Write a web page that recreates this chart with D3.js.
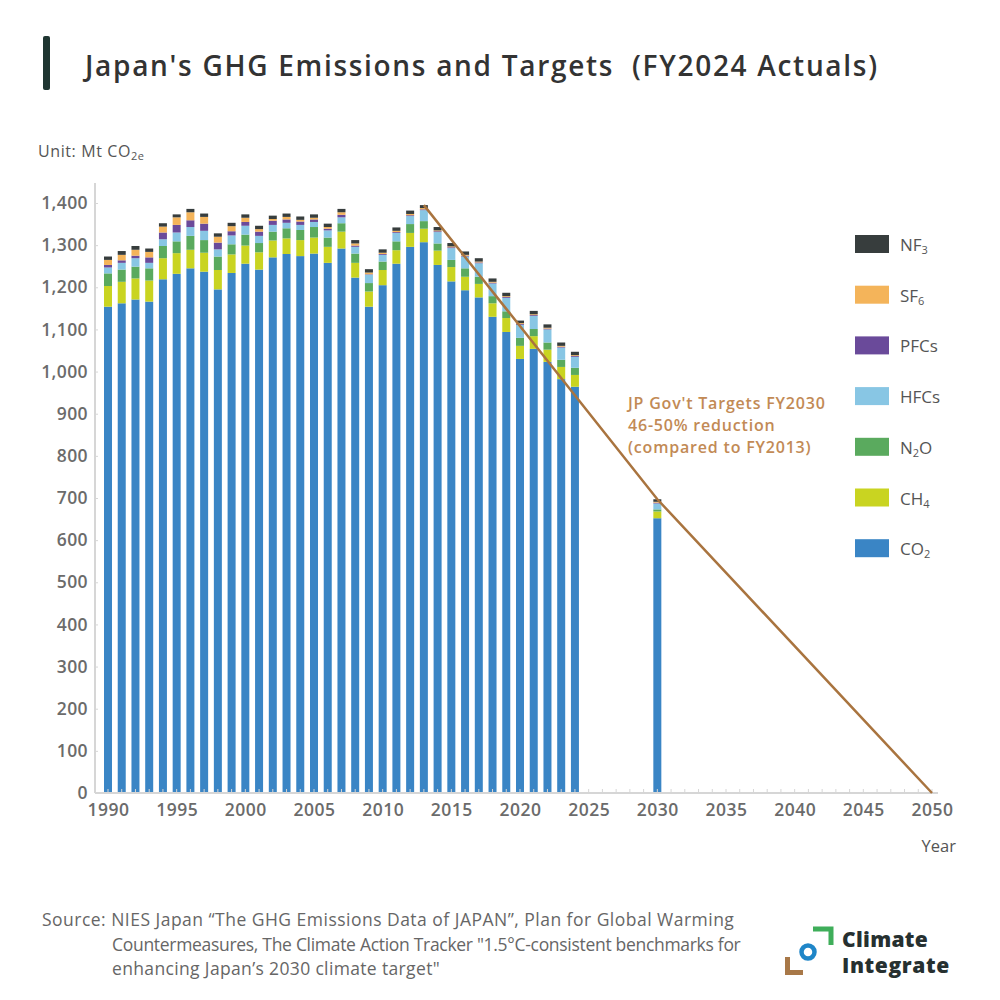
<!DOCTYPE html>
<html>
<head>
<meta charset="utf-8">
<script src="https://cdn.jsdelivr.net/npm/d3@7"></script>
<style>
  body { margin: 0; background: #fff; }
  text { font-family: "Open Sans", Lato, sans-serif; }
</style>
</head>
<body>
<script>
// values (Mt CO2e)
let years = [1990,1991,1992,1993,1994,1995,1996,1997,1998,1999,2000,2001,2002,2003,2004,2005,2006,2007,2008,2009,2010,2011,2012,2013,2014,2015,2016,2017,2018,2019,2020,2021,2022,2023,2024,2030];
let co2  = [1154,1162,1171,1166,1219,1232,1245,1237,1195,1234,1256,1242,1271,1279,1274,1280,1258,1292,1223,1154,1205,1256,1296,1307,1253,1214,1193,1176,1130,1094,1030,1054,1023,982,964,652];
let ch4  = [49,51,50,50,50,49,44,45,46,44,43,41,40,37,38,38,38,40,35,36,36,32,33,32,34,34,32,32,32,33,31,30,29,29,28,16];
let n2o  = [30,29,28,29,29,28,33,30,32,24,26,22,21,24,24,25,22,20,22,20,20,21,21,18,17,17,20,17,17,16,19,17,17,17,17,5];
let hfcs = [14,16,20,13,16,21,21,22,17,21,21,17,16,13,12,12,17,14,16,20,16,20,19,26,27,28,28,32,30,32,31,31,31,29,26,14];
let pfcs = [6,6,6,13,16,18,16,17,16,10,9,10,10,8,8,6,4,6,3,1,2,2,2,2,2,2,2,2,2,2,2,2,2,2,2,2];
let sf6  = [12,13,14,13,14,18,19,16,14,12,10,6,4,6,4,4,4,6,5,4,3,3,3,3,2,2,2,2,2,2,2,2,2,2,2,2];
let nf3  = [8,9,9,8,8,7,8,8,8,8,8,8,8,8,8,8,8,8,8,8,8,8,8,7,8,8,8,8,8,8,6,8,8,8,8,6];

let gases = ["CO2","CH4","N2O","HFCs","PFCs","SF6","NF3"];
let gasLabels = [["CO","2"],["CH","4"],["N","2","O"],["HFCs"],["PFCs"],["SF","6"],["NF","3"]];
let colors = ["#3a85c5","#c9d421","#5aaa5e","#88c6e4","#6a4a9a","#f4b45a","#373d3d"];

let targetYears = [2013, 2030, 2050];
let targetValues = [1395, 697, 0];

let yTicks = d3.range(0, 1401, 100);
let xTicks = d3.range(1990, 2051, 5);

let canvasW = 1000, canvasH = 1000;

let svg = d3.select("body").append("svg")
  .attr("width", canvasW)
  .attr("height", canvasH);

let xScale = d3.scaleLinear().domain([1990, 2050]).range([108, 932]);
let yScale = d3.scaleLinear().domain([0, 1400]).range([793, 203]);
let barW = 8;

// title
svg.append("rect").attr("x", 43).attr("y", 36).attr("width", 7).attr("height", 54)
  .attr("rx", 2).attr("fill", "#1f3632");
svg.append("text")
  .attr("x", 85).attr("y", 76)
  .attr("font-size", "28px").attr("font-weight", 600).attr("fill", "#333")
  .attr("letter-spacing", "1.7px")
  .text("Japan's GHG Emissions and Targets\u00a0\u00a0(FY2024 Actuals)");

// unit
let unit = svg.append("text")
  .attr("x", 38).attr("y", 157)
  .attr("font-size", "16px").attr("fill", "#555").attr("letter-spacing", "0.6px")
  .text("Unit: Mt CO");
unit.append("tspan").attr("font-size", "11px").attr("dy", 3).text("2e");

// stacked data
let table = years.map((y, i) => ({
  year: y, CO2: co2[i], CH4: ch4[i], N2O: n2o[i], HFCs: hfcs[i],
  PFCs: pfcs[i], SF6: sf6[i], NF3: nf3[i]
}));
let series = d3.stack().keys(gases)(table);

svg.append("g").selectAll("g")
  .data(series)
  .join("g")
    .attr("fill", (d, i) => colors[i])
  .selectAll("rect")
  .data(d => d)
  .join("rect")
    .attr("x", d => xScale(d.data.year) - barW / 2)
    .attr("y", d => yScale(d[1]))
    .attr("width", barW)
    .attr("height", d => yScale(d[0]) - yScale(d[1]));

// y axis
const yAxis = svg.append("g").attr("transform", "translate(95,0)");
yAxis.call(d3.axisLeft(yScale).tickValues(yTicks).tickSize(0).tickPadding(7).tickFormat(d3.format(",")));
yAxis.select(".domain").remove();
yAxis.selectAll("text")
  .attr("font-family", "'Open Sans', sans-serif")
  .attr("font-size", "17.5px").attr("font-weight", 600).attr("fill", "#6b6b6b")
  .attr("letter-spacing", "0.4px");
yAxis.append("line").attr("x1", 0).attr("x2", 0).attr("y1", 183).attr("y2", 793)
  .attr("stroke", "#d6d6d6").attr("stroke-width", 2);
yAxis.selectAll(".tick").append("line").attr("x1", 0).attr("x2", 3)
  .attr("stroke", "#d6d6d6");

// x axis
const xAxis = svg.append("g").attr("transform", "translate(0,793)");
xAxis.call(d3.axisBottom(xScale).tickValues(xTicks).tickSize(0).tickPadding(11).tickFormat(d3.format("d")));
xAxis.select(".domain").remove();
xAxis.selectAll("text")
  .attr("font-family", "'Open Sans', sans-serif")
  .attr("font-size", "17.5px").attr("font-weight", 600).attr("fill", "#6b6b6b")
  .attr("letter-spacing", "0.5px");
xAxis.append("line").attr("x1", 95).attr("x2", 938).attr("y1", 0).attr("y2", 0)
  .attr("stroke", "#d6d6d6").attr("stroke-width", 2);
xAxis.append("g").selectAll("line")
  .data(d3.range(1990, 2051))
  .join("line")
    .attr("x1", d => xScale(d)).attr("x2", d => xScale(d))
    .attr("y1", 0).attr("y2", -4)
    .attr("stroke", "#d6d6d6");
svg.append("text").attr("x", 956).attr("y", 852).attr("text-anchor", "end")
  .attr("font-size", "16.5px").attr("fill", "#555").text("Year");

// target path
svg.append("path")
  .datum(targetYears.map((y, i) => [y, targetValues[i]]))
  .attr("fill", "none").attr("stroke", "#a9743f").attr("stroke-width", 2.5)
  .attr("d", d3.line().x(d => xScale(d[0])).y(d => yScale(d[1])));

let notes = ["JP Gov't Targets FY2030", "46-50% reduction", "(compared to FY2013)"];
svg.append("g").selectAll("text")
  .data(notes)
  .join("text")
    .attr("x", 628).attr("y", (d, i) => 409 + i * 22)
    .attr("font-size", "16px").attr("font-weight", 600).attr("fill", "#c28a55")
    .attr("letter-spacing", "0.8px")
    .text(d => d);

// legend
let legendOrder = d3.range(gases.length).reverse();
let legend = svg.append("g").selectAll("g")
  .data(legendOrder)
  .join("g")
    .attr("transform", (d, i) => `translate(855,${235 + i * 50.7})`);
legend.append("rect").attr("width", 34).attr("height", 18).attr("fill", d => colors[d]);
legend.each(function(d) {
  let parts = gasLabels[d];
  let t = d3.select(this).append("text").attr("x", 45).attr("y", 16)
    .attr("font-size", "17px").attr("fill", "#555");
  t.append("tspan").text(parts[0]);
  if (parts.length > 1) t.append("tspan").attr("font-size", "11px").attr("dy", 3).text(parts[1]);
  if (parts.length > 2) t.append("tspan").attr("font-size", "17px").attr("dy", -3).text(parts[2]);
});

// source
let source = [
  ["Source: NIES Japan \u201cThe GHG Emissions Data of JAPAN\u201d, Plan for Global Warming", 42, 0.48],
  ["Countermeasures, The Climate Action Tracker \"1.5\u00b0C-consistent benchmarks for", 112, -0.3],
  ["enhancing Japan\u2019s 2030 climate target\"", 112, 0.35]
];
svg.append("g").selectAll("text")
  .data(source)
  .join("text")
    .attr("x", d => d[1]).attr("y", (d, i) => 926 + i * 24.5)
    .attr("font-size", "17.5px").attr("fill", "#666").attr("letter-spacing", d => d[2] + "px")
    .text(d => d[0]);

// logo
let logo = svg.append("g");
logo.append("path").attr("d", "M813,929 H831 V945").attr("fill", "none")
  .attr("stroke", "#3fae5a").attr("stroke-width", 5);
logo.append("circle").attr("cx", 808).attr("cy", 952).attr("r", 6.5).attr("fill", "none")
  .attr("stroke", "#1f86c8").attr("stroke-width", 4.5);
logo.append("path").attr("d", "M787.5,957 V972.5 H803").attr("fill", "none")
  .attr("stroke", "#a87848").attr("stroke-width", 5);
logo.append("text").attr("x", 842).attr("y", 947).attr("font-size", "21px")
  .attr("font-weight", 800).attr("fill", "#263030").attr("letter-spacing", "0.3px").text("Climate");
logo.append("text").attr("x", 842).attr("y", 973).attr("font-size", "21px")
  .attr("font-weight", 800).attr("fill", "#263030").attr("letter-spacing", "0.6px").text("Integrate");
</script>
</body>
</html>
